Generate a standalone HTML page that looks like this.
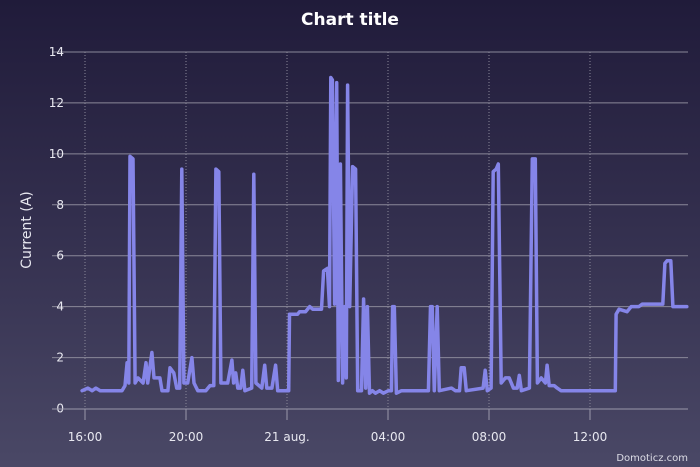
<!DOCTYPE html>
<html><head><meta charset="utf-8"><style>
html,body{margin:0;padding:0;width:700px;height:467px;overflow:hidden}
body{background:linear-gradient(to bottom,#201b3a 0%,#34304f 50%,#4a4866 100%);font-family:"DejaVu Sans","Liberation Sans",sans-serif}
svg text{font-family:"DejaVu Sans","Liberation Sans",sans-serif}
</style></head><body>
<svg id="chart" width="700" height="467" xmlns="http://www.w3.org/2000/svg">
<text x="350" y="25" text-anchor="middle" fill="#fff" font-size="17" font-weight="bold">Chart title</text>
<text transform="translate(31,230) rotate(-90)" text-anchor="middle" fill="#e8e8f0" font-size="14">Current (A)</text>
<g id="grid"></g><g id="axes"></g><g id="series"></g>
<text x="688" y="461" text-anchor="end" fill="#dddde6" font-size="10">Domoticz.com</text>
</svg>
<script>
const yTicks=[0,2,4,6,8,10,12,14];
const xTickMinutes=[0,240,480,720,960,1200];
const xTickLabels=["16:00","20:00","21 aug.","04:00","08:00","12:00"];
const times=[-7,7,17,26,36,50,88,95,100,104,107,114,119,126,138,145,149,159,164,178,183,197,202,211,218,225,230,235,244,254,259,268,287,297,306,311,318,323,339,349,353,358,363,370,375,380,396,401,406,420,427,432,444,453,458,484,486,505,510,524,534,541,562,567,576,581,584,588,593,598,602,607,612,617,621,624,629,636,643,648,657,662,667,671,676,683,690,700,709,721,728,731,735,740,752,816,821,825,830,837,842,871,880,890,894,901,906,946,951,956,965,970,977,982,989,999,1008,1018,1027,1032,1037,1056,1063,1070,1075,1084,1094,1098,1103,1115,1122,1131,1260,1262,1269,1288,1298,1316,1324,1364,1373,1378,1383,1392,1397,1430];
const values=[0.7,0.8,0.7,0.8,0.7,0.7,0.7,0.9,1.8,1.0,9.9,9.8,1.0,1.2,1.0,1.8,1.0,2.2,1.2,1.2,0.7,0.7,1.6,1.4,0.8,0.8,9.4,1.0,1.0,2.0,1.0,0.7,0.7,0.9,0.9,9.4,9.3,1.0,1.0,1.9,1.0,1.4,0.8,0.8,1.5,0.7,0.8,9.2,1.0,0.8,1.7,0.8,0.8,1.7,0.7,0.7,3.7,3.7,3.8,3.8,4.0,3.9,3.9,5.4,5.5,4.0,13.0,12.9,4.1,12.8,1.1,9.6,1.0,4.0,1.2,12.7,4.0,9.5,9.4,0.7,0.7,4.3,0.8,4.0,0.6,0.7,0.6,0.7,0.6,0.7,0.7,4.0,4.0,0.6,0.7,0.7,4.0,4.0,0.7,4.0,0.7,0.8,0.7,0.7,1.6,1.6,0.7,0.8,1.5,0.7,0.8,9.3,9.4,9.6,1.0,1.2,1.2,0.8,0.8,1.3,0.7,0.8,9.8,9.8,1.0,1.2,1.0,1.7,0.9,0.9,0.8,0.7,0.7,3.7,3.9,3.8,4.0,4.0,4.1,4.1,4.1,5.7,5.8,5.8,4.0,4.0];
const NS="http://www.w3.org/2000/svg";
const x=m=>85+m*(505/1200);
const y=v=>408.5-v*(356.5/14);
const grid=document.getElementById('grid'),axes=document.getElementById('axes'),ser=document.getElementById('series');
function mk(tag,attrs,parent){const e=document.createElementNS(NS,tag);for(const k in attrs)e.setAttribute(k,attrs[k]);parent.appendChild(e);return e;}
yTicks.forEach(v=>{
 if(v>0){const l=mk('line',{x1:52,x2:688,y1:y(v),y2:y(v),stroke:'#8a8899','stroke-width':1},grid);
 
 }
 const t=mk('text',{x:64,y:y(v)+4,'text-anchor':'end',fill:'#e8e8f0','font-size':12},axes);t.textContent=v;
 
 
});
xTickMinutes.forEach((m,i)=>{
 const g=mk('line',{x1:x(m),x2:x(m),y1:52,y2:408,stroke:'#8a8899','stroke-width':1,'stroke-dasharray':'1,2'},grid);
 
 
 const tk=mk('line',{x1:x(m),x2:x(m),y1:409,y2:420,stroke:'#9a98aa','stroke-width':1},axes);
 
 
 const t=mk('text',{x:x(m),y:441,'text-anchor':'middle',fill:'#e8e8f0','font-size':12},axes);t.textContent=xTickLabels[i];
 
 
});
const ax=mk('line',{x1:52,x2:688,y1:409,y2:409,stroke:'#9a98aa','stroke-width':1},axes);


const d=times.map((m,i)=>(i?'L':'M')+x(m).toFixed(1)+' '+y(values[i]).toFixed(1)).join(' ');
const p=mk('path',{d:d,fill:'none',stroke:'#8585e8','stroke-width':3.5,'stroke-linejoin':'round','stroke-linecap':'round'},ser);


</script>
</body></html>
